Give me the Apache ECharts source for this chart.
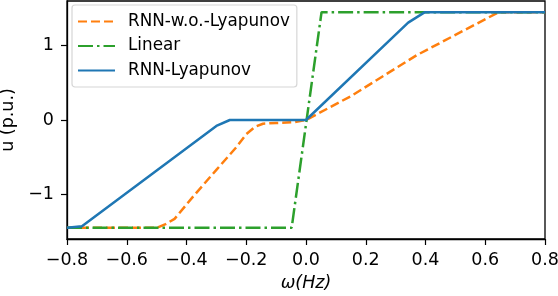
<!DOCTYPE html>
<html><head><meta charset="utf-8">
<script src="https://cdn.jsdelivr.net/npm/echarts@6/dist/echarts.min.js"></script>
<style>html,body{margin:0;padding:0;background:#fff}#c{width:558px;height:296px}</style>
</head><body><div id="c"></div>
<script>
const seriesNames = ['RNN-w.o.-Lyapunov', 'Linear', 'RNN-Lyapunov'];
const orangeX = [-0.8, -0.5, -0.47, -0.44, -0.378, -0.3, -0.232, -0.2, -0.17, -0.144, -0.1, -0.04, 0, 0.15, 0.37, 0.645, 0.8];
const orangeY = [-1.45, -1.45, -1.40, -1.33, -1.03, -0.67, -0.36, -0.19, -0.09, -0.05, -0.04, -0.03, 0, 0.32, 0.87, 1.45, 1.45];
const linearX = [-0.8, -0.048, 0.052, 0.8];
const linearY = [-1.45, -1.45, 1.45, 1.45];
const blueX = [-0.8, -0.75, -0.3, -0.255, 0, 0.342, 0.398, 0.8];
const blueY = [-1.45, -1.43, -0.08, 0, 0, 1.31, 1.45, 1.45];
const xTicks = [-0.8, -0.6, -0.4, -0.2, 0, 0.2, 0.4, 0.6, 0.8];
const yTicks = [-1, 0, 1];

const zip = (xs, ys) => xs.map((x, i) => [x, ys[i]]);
const fmt = v => (v < 0 ? '\u2212' : '') + Math.abs(v);
const font = 'DejaVu Sans';
const chart = echarts.init(document.getElementById('c'), null, {renderer: 'canvas'});
chart.setOption({
  animation: false,
  textStyle: {fontFamily: font},
  grid: {left: 67, right: 13, top: 1, bottom: 57, show: true, borderColor: '#000', borderWidth: 1.3,
         containLabel: false, outerBoundsMode: 'none'},
  legend: {
    orient: 'vertical', left: 72, top: 5, itemWidth: 37, itemHeight: 14, itemGap: 7.5,
    padding: [8, 7, 8, 5], borderColor: '#d6d6d6', borderWidth: 1.2, borderRadius: 3,
    backgroundColor: 'rgba(255,255,255,0.85)',
    itemStyle: {opacity: 0},
    textStyle: {fontFamily: font, fontSize: 16.8, color: '#000', padding: [0, 0, 0, 8]},
    data: seriesNames
  },
  xAxis: {
    type: 'value', min: -0.8, max: 0.8, interval: 0.2,
    name: '\u03c9(Hz)', nameLocation: 'middle', nameGap: 35,
    nameTextStyle: {fontFamily: font, fontSize: 17.5, fontStyle: 'italic', color: '#000'},
    axisLine: {show: true, onZero: false, lineStyle: {color: '#000', width: 1.3}},
    axisTick: {show: true, length: 6, lineStyle: {color: '#000', width: 1.2}, customValues: xTicks},
    axisLabel: {fontFamily: font, fontSize: 17.5, color: '#000', margin: 12, customValues: xTicks, formatter: v => fmt(+v.toFixed(1)).replace(/^(\u2212?)(\d)$/, '$1$2.0')},
    splitLine: {show: false}
  },
  yAxis: {
    type: 'value', min: -1.6, max: 1.6,
    name: 'u (p.u.)', nameLocation: 'middle', nameGap: 44, nameRotate: 90,
    nameTextStyle: {fontFamily: font, fontSize: 17.5, color: '#000'},
    axisLine: {show: true, onZero: false, lineStyle: {color: '#000', width: 1.3}},
    axisTick: {show: true, length: 6, lineStyle: {color: '#000', width: 1.2}, customValues: yTicks},
    axisLabel: {fontFamily: font, fontSize: 17.5, color: '#000', margin: 13, customValues: yTicks, formatter: v => fmt(Math.round(v))},
    splitLine: {show: false}
  },
  series: [
    {name: seriesNames[0], type: 'line', data: zip(orangeX, orangeY), symbol: 'none', color: '#ff7f0e',
     lineStyle: {color: '#ff7f0e', width: 2.5, type: [9, 4]}},
    {name: seriesNames[1], type: 'line', data: zip(linearX, linearY), symbol: 'none', color: '#2ca02c',
     lineStyle: {color: '#2ca02c', width: 2.5, type: [15, 4, 2.5, 4]}},
    {name: seriesNames[2], type: 'line', data: zip(blueX, blueY), symbol: 'none', color: '#1f77b4',
     lineStyle: {color: '#1f77b4', width: 2.5}}
  ]
});
</script></body></html>
